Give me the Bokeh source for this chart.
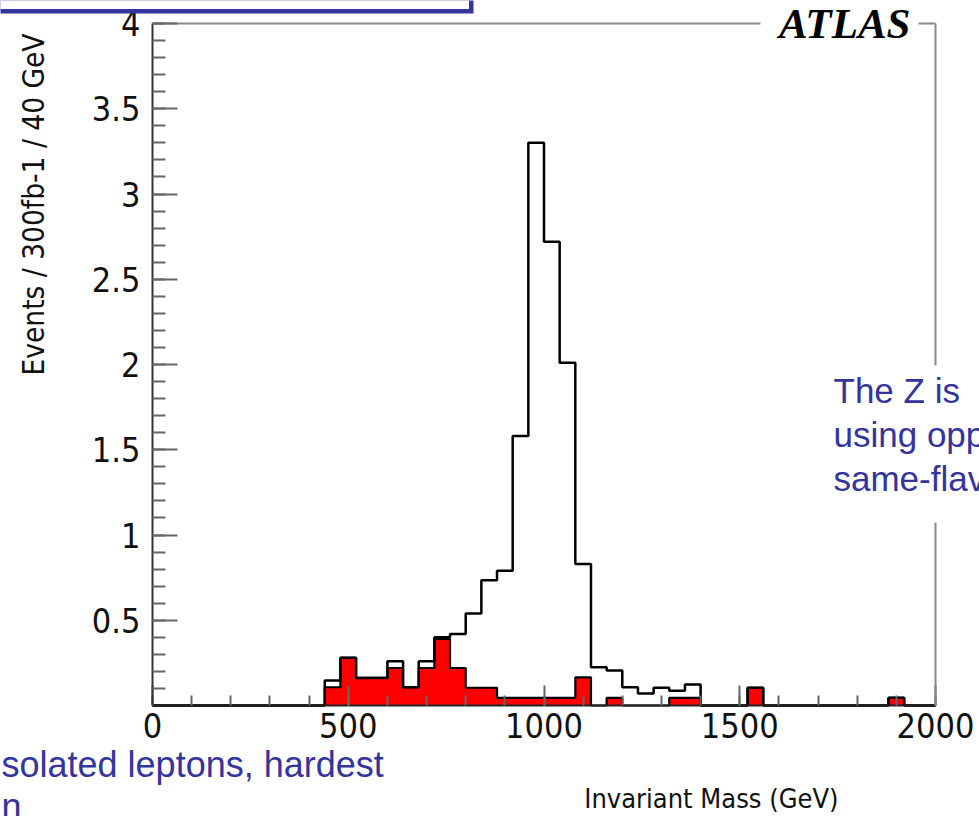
import math
import numpy as np
from bokeh.plotting import figure
from bokeh.models import (Range1d, FixedTicker, NumeralTickFormatter, Label, BoxAnnotation,
                          LinearAxis)
from bokeh.embed import file_html
from bokeh.resources import INLINE

# ---------------- data (40 GeV bins, 0 - 2000 GeV) ----------------
bin_edges = list(range(0, 2001, 40))          # 51 edges -> 50 bins
# total (signal + background), black outline
total = [0, 0, 0, 0, 0, 0, 0, 0, 0, 0, 0,
         0.147, 0.28, 0.162, 0.162, 0.26, 0.107, 0.26, 0.40, 0.42, 0.54,
         0.735, 0.79, 1.58, 3.30, 2.72, 2.01, 0.83, 0.225, 0.205, 0.107,
         0.07, 0.104, 0.086, 0.123, 0, 0, 0, 0.104, 0, 0,
         0, 0, 0, 0, 0, 0, 0.045, 0, 0]
# background, red filled
background = [0, 0, 0, 0, 0, 0, 0, 0, 0, 0, 0,
              0.107, 0.28, 0.162, 0.162, 0.22, 0.107, 0.22, 0.39, 0.22, 0.104,
              0.104, 0.045, 0.045, 0.045, 0.045, 0.045, 0.165, 0, 0.045, 0,
              0, 0, 0.045, 0.045, 0, 0, 0, 0.104, 0, 0,
              0, 0, 0, 0, 0, 0, 0.045, 0, 0]
x_ticks = [0, 500, 1000, 1500, 2000]
x_minor_ticks = list(range(0, 2001, 100))
y_ticks = [0.5, 1, 1.5, 2, 2.5, 3, 3.5, 4]
y_minor_ticks = [round(0.1 * i, 1) for i in range(1, 41)]

x_title = "Invariant Mass (GeV)"
y_title = "Events / 300fb-1 / 40 GeV"
experiment = "ATLAS"
note_right = ["The Z is", "using opp", "same-flav"]
note_bottom = ["solated leptons, hardest", "n"]

# ---------------- layout ----------------
W, H = 979, 816
FL, FR, FT, FB = 152, 935, 23, 705   # axes box edges in pixels
XMIN, XMAX, YMIN, YMAX = 0, 2000, 0, 4


def dx(px):
    return XMIN + (px - FL) * (XMAX - XMIN) / (FR - FL)


def dy(py):
    return YMIN + (FB - py) * (YMAX - YMIN) / (FB - FT)


NARROW = "'Liberation Sans Narrow', 'Arial Narrow', 'DejaVu Sans Condensed', 'Liberation Sans', sans-serif"
SANS = "'Liberation Sans', Arial, sans-serif"
SERIF = "'Liberation Serif', 'Times New Roman', serif"
BLUE = "#34349c"
FRAME = "#8a8a8a"

p = figure(width=W, height=H, x_range=Range1d(dx(0), dx(W)), y_range=Range1d(dy(H), dy(0)),
           output_backend="svg", toolbar_location=None,
           x_axis_type=None, y_axis_type=None,
           min_border_left=0, min_border_right=0, min_border_top=0, min_border_bottom=0)
p.title.visible = False
p.background_fill_color = "white"
p.border_fill_color = "white"
p.outline_line_color = None

# x axis (bottom of the box)
xa = LinearAxis(fixed_location=YMIN, bounds=(XMIN, XMAX),
                ticker=FixedTicker(ticks=x_ticks, minor_ticks=x_minor_ticks),
                formatter=NumeralTickFormatter(format="0"))
xa.major_tick_in = 20
xa.major_tick_out = 0
xa.minor_tick_in = 10
xa.minor_tick_out = 0
xa.major_tick_line_color = "#666666"
xa.minor_tick_line_color = "#666666"
xa.major_tick_line_width = 2
xa.minor_tick_line_width = 2
xa.axis_line_color = "#222222"
xa.axis_line_width = 2
xa.major_label_text_font = NARROW
xa.major_label_text_font_size = "34px"
xa.major_label_text_color = "#111111"
xa.major_label_standoff = 7
p.add_layout(xa, "below")

# y axis (left side of the box)
ya = LinearAxis(fixed_location=XMIN, bounds=(YMIN, YMAX),
                ticker=FixedTicker(ticks=y_ticks, minor_ticks=y_minor_ticks),
                formatter=NumeralTickFormatter(format="0.[0]"))
ya.major_tick_in = 25
ya.major_tick_out = 0
ya.minor_tick_in = 13
ya.minor_tick_out = 0
ya.major_tick_line_color = "#666666"
ya.minor_tick_line_color = "#666666"
ya.major_tick_line_width = 2
ya.minor_tick_line_width = 2
ya.axis_line_color = "#333333"
ya.axis_line_width = 2
ya.major_label_text_font = NARROW
ya.major_label_text_font_size = "34px"
ya.major_label_text_color = "#111111"
ya.major_label_standoff = 12
p.add_layout(ya, "left")

# top and right sides of the box (plain axis lines)
for loc, fixed, bnds in (("above", YMAX, (XMIN, XMAX)), ("right", XMAX, (YMIN, YMAX))):
    ax = LinearAxis(fixed_location=fixed, bounds=bnds, ticker=FixedTicker(ticks=[]))
    ax.axis_line_color = FRAME
    ax.axis_line_width = 2
    ax.major_tick_line_color = None
    ax.minor_tick_line_color = None
    ax.major_label_text_color = None
    p.add_layout(ax, loc)

# ---------------- histograms ----------------
edges = np.array(bin_edges, dtype=float)
bg_step = np.append(np.array(background, dtype=float), background[-1])
tot_step = np.append(np.array(total, dtype=float), total[-1])

p.varea_step(x=edges, y1=np.zeros_like(edges), y2=bg_step, step_mode="after",
             fill_color="#ff0000")
p.step(x=edges, y=bg_step, mode="after", line_color="black", line_width=2.2)
p.step(x=edges, y=tot_step, mode="after", line_color="black", line_width=2.5)

# ---------------- annotations ----------------
# white patch behind the ATLAS tag (interrupts the top frame line)
p.add_layout(BoxAnnotation(left=dx(760), right=dx(918), top=dy(-5), bottom=dy(36),
                           fill_color="white", fill_alpha=1, line_color=None))
p.add_layout(Label(x=dx(910), y=dy(23), text=experiment, text_align="right",
                   text_baseline="middle", text_font=SERIF, text_font_style="bold italic",
                   text_font_size="43px", text_color="black"))

# white text box on the right (hides part of the right frame line)
p.add_layout(BoxAnnotation(left=dx(812), right=dx(995), top=dy(365), bottom=dy(522),
                           fill_color="white", fill_alpha=1, line_color=None))
for i, t in enumerate(note_right):
    p.add_layout(Label(x=dx(833), y=dy(390 + 44 * i), text=t, text_align="left",
                       text_baseline="middle", text_font=SANS, text_font_size="35px",
                       text_color=BLUE))

# slide box at the top left (thick blue border drawn as two stacked boxes)
p.add_layout(BoxAnnotation(left=dx(-20), right=dx(473), top=dy(-20), bottom=dy(13),
                           fill_color=BLUE, fill_alpha=1, line_color=None))
p.add_layout(BoxAnnotation(left=dx(-20), right=dx(468.5), top=dy(-20), bottom=dy(8.5),
                           fill_color="white", fill_alpha=1, line_color=None))

# slide text bottom left
p.add_layout(Label(x=dx(1), y=dy(764), text=note_bottom[0], text_align="left",
                   text_baseline="middle", text_font=SANS, text_font_size="36px",
                   text_color=BLUE))
p.add_layout(Label(x=dx(1), y=dy(806), text=note_bottom[1], text_align="left",
                   text_baseline="middle", text_font=SANS, text_font_size="36px",
                   text_color=BLUE))

# axis titles
p.add_layout(Label(x=dx(838), y=dy(798), text=x_title, text_align="right",
                   text_baseline="middle", text_font=NARROW, text_font_size="27px",
                   text_color="#111111"))
p.add_layout(Label(x=dx(33), y=dy(33), text=y_title, angle=math.pi / 2, text_align="right",
                   text_baseline="middle", text_font=NARROW, text_font_size="29.5px",
                   text_color="#111111"))

open("out.html", "w").write(file_html(p, INLINE))
